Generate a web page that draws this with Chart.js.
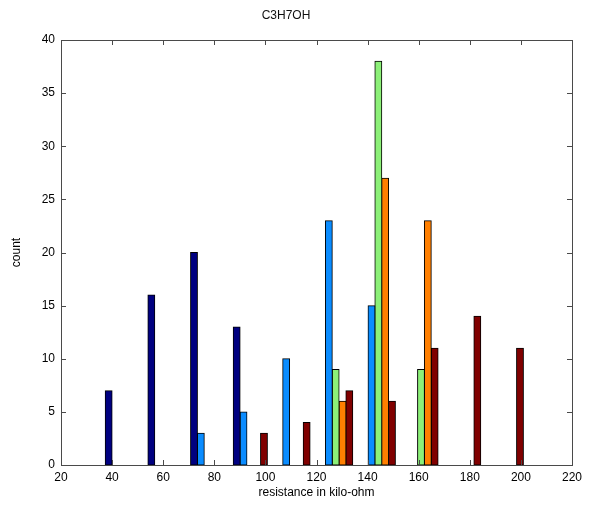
<!DOCTYPE html>
<html>
<head>
<meta charset="utf-8">
<script src="https://cdn.jsdelivr.net/npm/chart.js@4"></script>
<style>
  html, body { margin: 0; padding: 0; background: #fff; }
  #wrap { width: 598px; height: 512px; }
</style>
</head>
<body>
<div id="wrap"><canvas id="histChart" width="598" height="512"></canvas></div>
<script>
// bin centres of the histogram (kilo-ohm)
const binCenters = [44.0, 60.7, 77.4, 94.1, 110.8, 127.5, 144.2, 160.9, 177.6, 194.3];

// counts per bin, one array per sensor series
const series1 = [7, 16, 20, 13, 0, 0, 0, 0, 0, 0];
const series2 = [0, 0, 3, 5, 10, 23, 15, 0, 0, 0];
const series3 = [0, 0, 0, 0, 0, 9, 38, 9, 0, 0];
const series4 = [0, 0, 0, 0, 0, 6, 27, 23, 0, 0];
const series5 = [0, 0, 0, 3, 4, 7, 6, 11, 14, 11];

const seriesColors = ['#000080', '#0a8cff', '#8cf078', '#ff7f00', '#800000'];

const xTicks = [20, 40, 60, 80, 100, 120, 140, 160, 180, 200, 220];
const yTicks = [0, 5, 10, 15, 20, 25, 30, 35, 40];

function toPoints(values) {
    return values.map((v, i) => ({ x: binCenters[i], y: v }));
}

// box around plot + matlab style inward ticks
const axesBox = {
    id: 'axesBox',
    afterDatasetsDraw(chart) {
        const ctx = chart.ctx;
        const a = chart.chartArea;
        const xs = chart.scales.x;
        const ys = chart.scales.y;
        const len = 5;
        ctx.save();
        ctx.strokeStyle = '#4a4a4a';
        ctx.lineWidth = 1;
        ctx.beginPath();
        xTicks.forEach(t => {
            const px = Math.round(xs.getPixelForValue(t)) + 0.5;
            ctx.moveTo(px, a.bottom); ctx.lineTo(px, a.bottom - len);
            ctx.moveTo(px, a.top); ctx.lineTo(px, a.top + len);
        });
        yTicks.forEach(t => {
            const py = Math.round(ys.getPixelForValue(t)) + 0.5;
            ctx.moveTo(a.left, py); ctx.lineTo(a.left + len, py);
            ctx.moveTo(a.right, py); ctx.lineTo(a.right - len, py);
        });
        ctx.stroke();
        ctx.strokeRect(Math.round(a.left) + 0.5, Math.round(a.top) + 0.5,
            Math.round(a.right - a.left), Math.round(a.bottom - a.top));
        ctx.restore();
    }
};

const font = { family: 'Liberation Sans, Arial, sans-serif', size: 12, weight: 'normal' };

const isEmpty = c => c.raw && c.raw.y === 0;

new Chart(document.getElementById('histChart').getContext('2d'), {
    type: 'bar',
    data: {
        datasets: [series1, series2, series3, series4, series5].map((s, i) => ({
            label: 'series ' + (i + 1),
            data: toPoints(s),
            backgroundColor: seriesColors[i],
            borderColor: '#000',
            borderWidth: c => (isEmpty(c) ? 0 : 1),
            inflateAmount: c => (isEmpty(c) ? 0 : 0.5),
            borderSkipped: false
        }))
    },
    options: {
        responsive: false,
        animation: false,
        categoryPercentage: 0.8,
        barPercentage: 1.0,
        layout: { padding: { left: 0, right: 26, top: 0, bottom: 0 } },
        plugins: {
            legend: { display: false },
            tooltip: { enabled: false },
            title: {
                display: true,
                text: 'C3H7OH',
                color: '#111',
                font: font,
                padding: { top: 8, bottom: 17.6 }
            }
        },
        scales: {
            x: {
                type: 'linear',
                offset: false,
                min: 20,
                max: 220,
                grid: { display: false, drawTicks: false },
                border: { display: false },
                afterBuildTicks: scale => { scale.ticks = xTicks.map(v => ({ value: v })); },
                afterFit: scale => { scale.height = 47; },
                ticks: { color: '#000', font: font, padding: 5, maxRotation: 0 },
                title: {
                    display: true,
                    text: 'resistance in kilo-ohm',
                    color: '#000',
                    font: font,
                    padding: { top: 0, bottom: 12 }
                }
            },
            y: {
                min: 0,
                max: 40,
                grid: { display: false, drawTicks: false },
                border: { display: false },
                afterBuildTicks: scale => { scale.ticks = yTicks.map(v => ({ value: v })); },
                afterFit: scale => { scale.width = 61; },
                ticks: { color: '#000', font: font, padding: 6 },
                title: {
                    display: true,
                    text: 'count',
                    color: '#000',
                    font: font,
                    padding: { top: 9, bottom: 0 }
                }
            }
        }
    },
    plugins: [axesBox]
});
</script>
</body>
</html>
